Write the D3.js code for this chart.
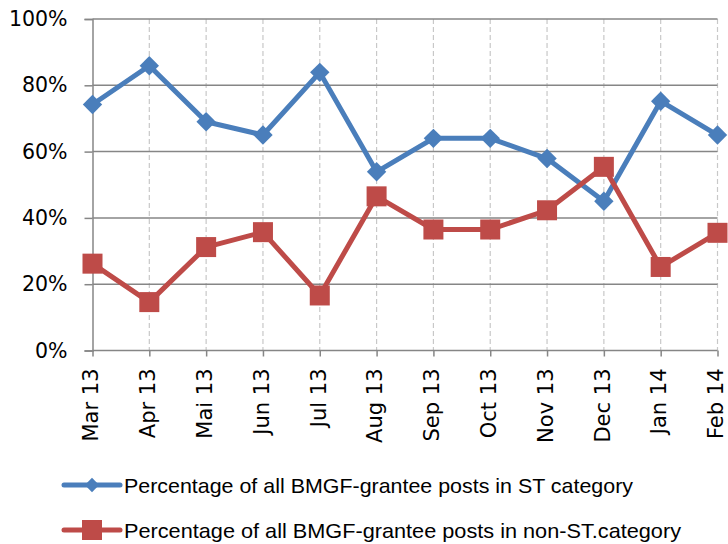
<!DOCTYPE html>
<html>
<head>
<meta charset="utf-8">
<script src="https://cdn.jsdelivr.net/npm/d3@7"></script>
<style>
  body { margin: 0; background: #fff; }
  svg { display: block; }
</style>
</head>
<body>
<div id="chart"></div>
<script>
// data
const months = ["Mar 13", "Apr 13", "Mai 13", "Jun 13", "Jul 13", "Aug 13",
                "Sep 13", "Oct 13", "Nov 13", "Dec 13", "Jan 14", "Feb 14"];
const stShare = [0.742, 0.859, 0.690, 0.650, 0.839, 0.539,
                 0.640, 0.640, 0.579, 0.450, 0.752, 0.650];
const nonStShare = [0.262, 0.146, 0.312, 0.357, 0.166, 0.465,
                    0.365, 0.365, 0.423, 0.554, 0.252, 0.355];
const yTicks = [0, 0.2, 0.4, 0.6, 0.8, 1];
const seriesNames = ["Percentage of all BMGF-grantee posts in ST category",
                     "Percentage of all BMGF-grantee posts in non-ST.category"];

const width = 728, height = 544;
const plot = {left: 92.5, right: 717.5, top: 19, bottom: 350.5};
const blue = "#4a7ebb", red = "#be4b48";

const svg = d3.select("#chart").append("svg")
    .attr("width", width)
    .attr("height", height);

const x = d3.scalePoint()
    .domain(months)
    .range([plot.left, plot.right]);

const y = d3.scaleLinear()
    .domain([0, 1])
    .range([plot.bottom, plot.top]);

// vertical dashed gridlines
svg.append("g")
    .selectAll("line")
    .data(months.slice(1))
    .join("line")
    .attr("x1", d => x(d))
    .attr("x2", d => x(d))
    .attr("y1", plot.top)
    .attr("y2", plot.bottom)
    .attr("stroke", "#c8c8c8")
    .attr("stroke-width", 1.2)
    .attr("stroke-dasharray", "5,3");

// horizontal gridlines
svg.append("g")
    .selectAll("line")
    .data(yTicks.slice(1))
    .join("line")
    .attr("x1", plot.left)
    .attr("x2", plot.right)
    .attr("y1", d => y(d))
    .attr("y2", d => y(d))
    .attr("stroke", "#868686")
    .attr("stroke-width", 1.5);

// y axis
let yAxis = svg.append("g")
    .attr("transform", `translate(${plot.left},0)`)
    .call(d3.axisLeft(y).tickValues(yTicks).tickFormat(d3.format(".0%")).tickSize(8).tickPadding(17));
yAxis.select(".domain").attr("stroke", "#868686").attr("stroke-width", 1.5);
yAxis.selectAll(".tick line").attr("stroke", "#868686").attr("stroke-width", 1.5);
yAxis.selectAll("text")
    .attr("font-family", "DejaVu Sans, sans-serif")
    .attr("font-size", 20.5)
    .attr("fill", "#000");

// x axis
let xAxis = svg.append("g")
    .attr("transform", `translate(0,${plot.bottom})`)
    .call(d3.axisBottom(x).tickSize(6).tickSizeOuter(0));
xAxis.select(".domain").attr("stroke", "#868686").attr("stroke-width", 1.5)
    .attr("d", `M${plot.left},0H${plot.right}`);
xAxis.selectAll(".tick line").attr("stroke", "#868686").attr("stroke-width", 1.5);
xAxis.selectAll("text")
    .attr("font-family", "DejaVu Sans, sans-serif")
    .attr("font-size", 21)
    .attr("fill", "#000")
    .attr("transform", "rotate(-90)")
    .attr("text-anchor", "end")
    .attr("x", -18)
    .attr("y", 0)
    .attr("dy", "0.25em");

const line = d3.line()
    .x((d, i) => x(months[i]))
    .y(d => y(d));

// ST series
svg.append("path")
    .datum(stShare)
    .attr("fill", "none")
    .attr("stroke", blue)
    .attr("stroke-width", 5)
    .attr("stroke-linejoin", "round")
    .attr("d", line);

svg.append("g")
    .selectAll("path")
    .data(stShare)
    .join("path")
    .attr("transform", (d, i) => `translate(${x(months[i])},${y(d)})`)
    .attr("d", d3.symbol(d3.symbolDiamond2, 240))
    .attr("fill", blue);

// non-ST series
svg.append("path")
    .datum(nonStShare)
    .attr("fill", "none")
    .attr("stroke", red)
    .attr("stroke-width", 5)
    .attr("stroke-linejoin", "round")
    .attr("d", line);

svg.append("g")
    .selectAll("rect")
    .data(nonStShare)
    .join("rect")
    .attr("x", (d, i) => x(months[i]) - 10)
    .attr("y", d => y(d) - 10)
    .attr("width", 20)
    .attr("height", 20)
    .attr("fill", red);

// legend
const legend = svg.append("g");
const legendRows = [
    {name: seriesNames[0], color: blue, y: 485, w: 509, shape: "diamond"},
    {name: seriesNames[1], color: red, y: 530, w: 557, shape: "square"}
];
legendRows.forEach(r => {
    legend.append("line")
        .attr("x1", 64).attr("x2", 120)
        .attr("y1", r.y).attr("y2", r.y)
        .attr("stroke", r.color)
        .attr("stroke-width", 5)
        .attr("stroke-linecap", "round");
    if (r.shape === "diamond") {
        legend.append("path")
            .attr("transform", `translate(92,${r.y})`)
            .attr("d", d3.symbol(d3.symbolDiamond2, 130))
            .attr("fill", r.color);
    } else {
        legend.append("rect")
            .attr("x", 82).attr("y", r.y - 10)
            .attr("width", 20).attr("height", 20)
            .attr("fill", r.color);
    }
    legend.append("text")
        .attr("x", 124)
        .attr("y", r.y + 8)
        .attr("font-family", "Liberation Sans Narrow, Liberation Sans, sans-serif")
        .attr("font-size", 21)
        .attr("textLength", r.w)
        .attr("lengthAdjust", "spacingAndGlyphs")
        .attr("fill", "#000")
        .text(r.name);
});
</script>
</body>
</html>
